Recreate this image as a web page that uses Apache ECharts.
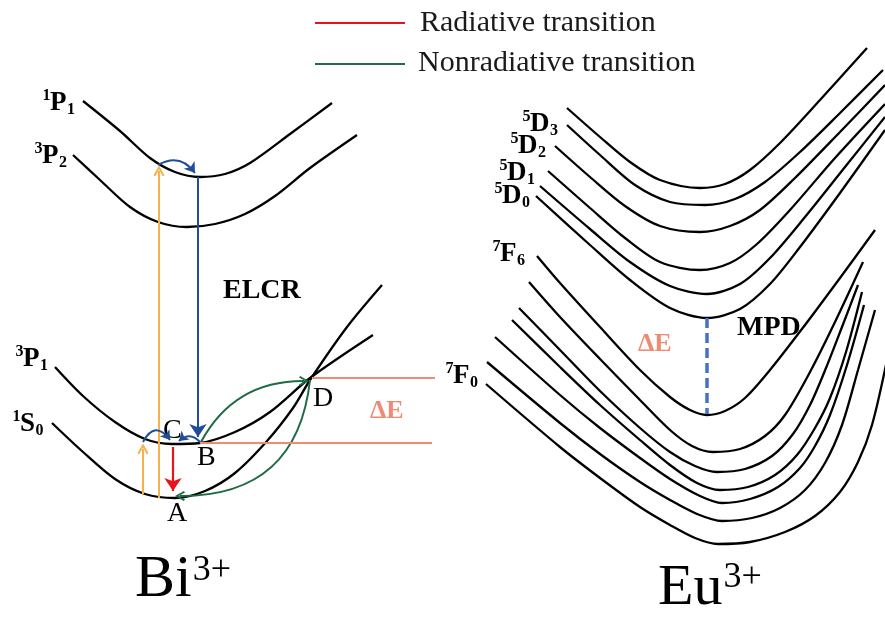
<!DOCTYPE html>
<html><head><meta charset="utf-8">
<script src="https://cdn.jsdelivr.net/npm/echarts@6/dist/echarts.min.js"></script>
<style>html,body{margin:0;padding:0;background:#fff}#c{width:885px;height:619px}</style>
</head><body><div id="c"></div>
<script>
// ---------- Bi3+ potential curves (x = configurational coordinate, y = energy, screen-down) ----------
const bi_1P1 = [[83,101],[120,131],[150,158],[175,172],[200,177],[225,174],[250,163],[290,134],[332,103]];
const bi_3P2 = [[73,155],[100,180],[130,207],[158,222],[187,227],[215,224],[245,214],[275,196],[310,168],[357,135]];
const bi_3P1 = [[55,367],[83,396],[115,422],[145,439],[172,444],[200,443],[235,432],[270,412],[310,378],[373,335]];
const bi_1S0 = [[52,423],[83,452],[115,479],[145,494],[175,498],[205,491],[235,473],[267,441],[293,408],[310,380],[347,327],[382,285]];
// ---------- Eu3+ potential curves: 5D group (upper) ----------
const eu_U1 = [[567,108],[600,137],[630,162],[660,180],[700,188],[725,184],[750,170],[780,143],[820,100],[867,48]];
const eu_U2 = [[567,125],[600,155],[635,185],[670,202],[705,205],[735,199],[765,182],[800,152],[840,113],[883,70]];
const eu_U3 = [[555,146],[590,177],[625,206],[660,226],[700,232],[730,226],[760,210],[795,178],[840,132],[885,85]];
const eu_U4 = [[548,171],[590,208],[625,238],[660,262],[700,270],[730,263],[757,244],[790,210],[835,158],[885,104]];
const eu_U5 = [[540,186],[590,229],[630,262],[670,286],[707,294],[740,284],[770,258],[805,217],[845,167],[885,117]];
const eu_U6 = [[536,196],[590,245],[630,280],[670,308],[707,318],[740,309],[770,284],[800,247],[840,193],[885,130]];
// ---------- Eu3+ potential curves: 7F group (lower) ----------
const eu_L1 = [[537,256],[560,283],[600,327],[640,370],[670,397],[690,410],[707,415],[725,411],[745,398],[770,370],[805,325],[840,278],[875,230]];
const eu_L2 = [[529,282],[560,317],[600,359],[640,400],[670,430],[692,446],[713,452],[740,449],[765,436],[785,415],[810,372],[835,322],[863,262]];
const eu_L3 = [[519,308],[560,350],[600,391],[640,428],[670,452],[695,466],[717,472],[745,469],[772,456],[793,434],[810,405],[826,368],[842,327],[858,285]];
const eu_L4 = [[512,320],[560,367],[600,405],[640,440],[670,465],[697,483],[720,490],[748,487],[775,475],[797,455],[815,428],[830,398],[846,352],[862,292]];
const eu_L5 = [[495,337],[560,395],[600,428],[640,458],[670,479],[700,496],[722,503],[750,499],[778,487],[800,468],[815,446],[830,415],[847,365],[864,305]];
const eu_L6 = [[487,362],[560,423],[600,454],[640,482],[670,500],[697,514],[722,521],[752,518],[780,508],[805,490],[825,463],[842,425],[858,370],[875,310]];
const eu_L7 = [[486,384],[560,447],[600,478],[640,507],[670,525],[695,538],[718,544],[750,542],[785,532],[815,516],[840,492],[858,462],[872,425],[887,360]];
// ---------- transitions ----------
const excLong  = [[159,498],[159,171]];
const excShort = [[143,494],[143,449]];
const elcrDown = [[198,177],[198,437]];
const radiative = [[173,447],[173,491]];
const relaxTop = [[158,165],[195,173]];
const relaxC1  = [[143,442],[170,440]];
const relaxC2  = [[200,442],[179,441]];
const nrBD = [[201,442],[304,381]];
const nrDA = [[310,380],[180,496]];
const deltaTop = [[312,378],[435,378]];
const deltaBot = [[200,443],[432,443]];
const mpdDash  = [[707,318],[707,414]];
const legRed   = [[315,23],[405,23]];
const legGreen = [[315,64],[405,64]];
// ---------- text ----------
const legendTexts = ['Radiative transition', 'Nonradiative transition'];
const biStates = [['1','P','1'],['3','P','2'],['3','P','1'],['1','S','0']];
const euStates = [['5','D','3'],['5','D','2'],['5','D','1'],['5','D','0'],['7','F','6'],['7','F','0']];

const SERIF = '"Liberation Serif","Times New Roman",serif';
const BLACK = '#000';
const ORANGE = '#f6b14a', BLUE = '#1f4e96', RED = '#e8141b', GREEN = '#1f6b45', SALMON = '#ef8a73';
const CHEV = 'path://M0,12 L10,0 L20,12 L17,13.5 L10,5 L3,13.5 Z';

function curve(pts) {
  return {type:'line', data:pts, smooth:0.3, symbol:'none', silent:true, animation:false,
          lineStyle:{color:BLACK, width:2.3}, z:2};
}
function seg(coords, color, width, endSym, size, curveness, extra) {
  return {type:'lines', coordinateSystem:'cartesian2d', silent:true, animation:false,
    symbol:['none', endSym || 'none'], symbolSize:size || 10,
    lineStyle:Object.assign({color:color, width:width, opacity:1, curveness:curveness||0}, extra||{}),
    data:[{coords:coords}], z:3};
}

const series = [
  curve(bi_1P1), curve(bi_3P2), curve(bi_3P1), curve(bi_1S0),
  curve(eu_U1), curve(eu_U2), curve(eu_U3), curve(eu_U4), curve(eu_U5), curve(eu_U6),
  curve(eu_L1), curve(eu_L2), curve(eu_L3), curve(eu_L4), curve(eu_L5), curve(eu_L6), curve(eu_L7),
  seg(excLong, ORANGE, 2, CHEV, [14,11]),
  seg(excShort, ORANGE, 2, CHEV, [14,11]),
  seg(elcrDown, BLUE, 2, 'arrow', [10,13]),
  seg(radiative, RED, 2.2, 'arrow', [10,13]),
  seg(relaxTop, BLUE, 2, 'arrow', [8,10], 0.45),
  seg(relaxC1, BLUE, 2, 'arrow', [7,9], 0.8),
  seg(relaxC2, BLUE, 2, 'arrow', [7,9], -0.5),
  seg(nrBD, GREEN, 2, CHEV, [13,10], 0.3),
  seg(nrDA, GREEN, 2, CHEV, [13,10], 0.45),
  seg(deltaTop, SALMON, 2, 'none'),
  seg(deltaBot, SALMON, 2, 'none'),
  seg(mpdDash, '#4472c4', 3.5, 'none', 10, 0, {type:[10,5]}),
  seg(legRed, RED, 2.2, 'none'),
  seg(legGreen, GREEN, 2.2, 'none')
];

const mctx = document.createElement('canvas').getContext('2d');
function textWidth(t, fs, bold) {
  mctx.font = (bold ? 'bold ' : '') + fs + 'px ' + SERIF;
  return mctx.measureText(t).width;
}
function txt(x, baseline, text, fs, bold, color, align) {
  return {type:'text', x:x, y:baseline - 0.3375 * fs, silent:true, style:{
    text:text, fontFamily:SERIF, fontSize:fs, fontWeight:bold ? 'bold' : 'normal', fill:color || BLACK,
    align:align || 'left', verticalAlign:'middle'}};
}
function stateLabel(parts, mx, baseline) {
  const w = textWidth(parts[1], 27, true);
  return [
    txt(mx + 0.5, baseline - 11, parts[0], 16, true, BLACK, 'right'),
    txt(mx, baseline, parts[1], 27, true),
    txt(mx + w + 0.5, baseline + 3, parts[2], 16, true)
  ];
}
function ionLabel(main, sup, x, baseline, fs, supBase) {
  const w = textWidth(main, fs, false);
  return [txt(x, baseline, main, fs, false), txt(x + w + 1, supBase, sup, 36, false)];
}

const biPos = [[50,112],[42,165],[23,368],[20,433]];
const euPos = [[530,133],[518,155],[507,182],[502,205],[500,263],[453,385]];

let graphic = [];
biStates.forEach((p, i) => { graphic = graphic.concat(stateLabel(p, biPos[i][0], biPos[i][1])); });
euStates.forEach((p, i) => { graphic = graphic.concat(stateLabel(p, euPos[i][0], euPos[i][1])); });
graphic = graphic.concat(ionLabel('Bi', '3+', 135, 600, 60, 583));
graphic = graphic.concat(ionLabel('Eu', '3+', 658, 608, 58, 590));
graphic.push(
  txt(223, 300, 'ELCR', 28, true),
  txt(167, 523, 'A', 28, false),
  txt(197, 467, 'B', 28, false),
  txt(163, 440, 'C', 28, false),
  txt(313, 408, 'D', 28, false),
  txt(370, 420, 'ΔE', 26, true, SALMON),
  txt(638, 353, 'ΔE', 26, true, SALMON),
  txt(737, 337, 'MPD', 28, true),
  txt(420, 33, legendTexts[0], 30, false, '#1a1a1a'),
  txt(418, 73, legendTexts[1], 30, false, '#1a1a1a')
);

const chart = echarts.init(document.getElementById('c'), null, {renderer:'canvas'});
chart.setOption({
  animation:false,
  backgroundColor:'#fff',
  grid:{left:0,right:0,top:0,bottom:0},
  xAxis:{type:'value', min:0, max:885, show:false},
  yAxis:{type:'value', min:0, max:619, inverse:true, show:false},
  series:series,
  graphic:graphic
});
</script></body></html>
